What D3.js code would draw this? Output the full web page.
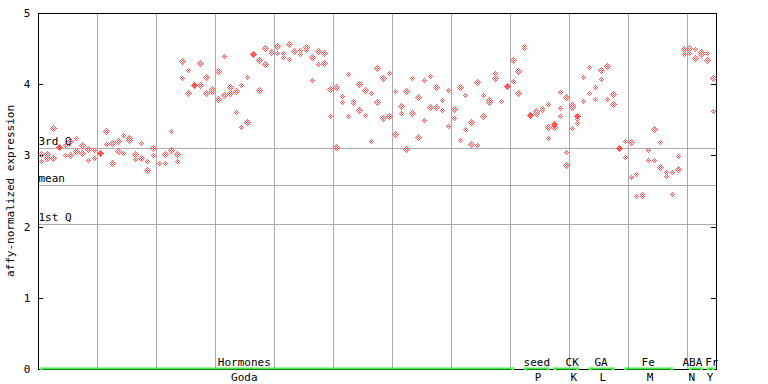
<!DOCTYPE html>
<html>
<head>
<meta charset="utf-8">
<script src="https://cdn.jsdelivr.net/npm/d3@7"></script>
<style>
body { margin: 0; background: #fff; }
text { font-family: "DejaVu Sans Mono", monospace; font-size: 11px; fill: #000; }
</style>
</head>
<body>
<svg id="chart" width="768" height="384"></svg>
<script>
// expression values per sample (hollow markers), index = sample position
var expr = [
  [3.02, 2.92], [3.02, 2.96], [3.39, 2.97], [], [3.14, 3.00],
  [3.20, 3.00], [3.24, 3.06], [3.14, 3.04], [3.09, 2.93], [3.07, 2.97],
  [], [3.34, 3.16], [3.17, 2.89], [3.20, 3.06], [3.28, 3.03],
  [3.24, 3.21], [3.02, 2.95], [3.17, 2.96], [2.92, 2.79], [3.10, 3.00],
  [2.90, 2.89], [3.02, 2.89], [3.34, 3.07], [3.02, 2.92], [4.33, 4.09],
  [4.20, 3.88], [], [4.30, 3.99], [4.10, 3.88], [3.93, 3.90],
  [4.19, 3.79], [4.40, 3.85], [3.96, 3.88], [3.90, 3.61], [3.99, 3.40],
  [4.10, 3.47], [], [4.34, 3.92], [4.51, 4.28], [4.47, 4.44],
  [4.54, 4.44], [4.44, 4.38], [4.56, 4.35], [4.48, 4.47], [4.48, 4.42],
  [4.52, 4.48], [4.38, 4.06], [4.47, 4.28], [4.44, 4.30], [3.93, 3.55],
  [3.96, 3.12], [3.83, 3.75], [4.14, 3.55], [3.76, 3.74], [4.00, 3.64],
  [3.92, 3.57], [3.88, 3.20], [4.23, 3.75], [4.09, 3.53], [4.16, 3.55],
  [3.90, 3.30], [3.69, 3.60], [3.90, 3.09], [4.09, 3.60], [3.82, 3.26],
  [4.06, 3.50], [4.12, 3.68], [3.96, 3.68], [3.78, 3.64], [3.92, 3.41],
  [3.65, 3.53], [3.96, 3.22], [3.85, 3.37], [3.47, 3.16], [4.03, 3.15],
  [3.85, 3.55], [3.78, 3.75], [4.16, 4.09], [3.77, 3.76], [],
  [4.34, 4.04], [4.19, 3.88], [4.54, 4.51], [], [3.62, 3.60],
  [3.67, 3.64], [3.72, 3.40, 3.24], [3.40], [3.89, 3.67, 3.55], [3.82, 3.05, 2.87],
  [3.71, 3.68, 3.38], [3.51, 3.46], [4.10, 3.76], [4.24, 3.88], [3.96, 3.79],
  [4.20, 4.07], [4.26, 3.79], [3.86, 3.72], [], [3.20, 2.98],
  [3.19, 2.70], [2.74, 2.43], [2.46, 2.43], [3.08, 2.94], [3.37, 2.94],
  [3.19, 2.84], [2.77, 2.71], [2.77, 2.46], [2.99, 2.81], [4.49, 4.42],
  [4.51, 4.44], [4.49, 4.37], [4.45, 4.42], [4.44, 4.34], [4.09, 3.62]
];
// filled markers
var ctrlIdx = [3, 10, 26, 36, 79, 83, 87, 91, 98];
var ctrlVal = [3.12, 3.03, 3.99, 4.42, 3.97, 3.57, 3.44, 3.55, 3.10];

var statLabels = ["3rd Q", "mean", "1st Q"];
var statVals = [3.10, 2.58, 2.04];

var yTicks = [0, 1, 2, 3, 4, 5];

// experiment groups along the bottom
var grpStart = [0, 82, 87, 93, 99, 110, 113];
var grpEnd   = [80, 86, 91, 97, 107, 112, 114];
var grpTop   = ["Hormones", "seed", "CK", "GA", "Fe", "ABA", "Fr"];
var grpBot   = ["Goda", "P", "K", "L", "M", "N", "Y"];
var grpTopAt = [35, 84.6, 90.6, 95.5, 103.5, 111, 114.3];
var grpBotAt = [35, 84.8, 90.9, 95.8, 103.8, 110.9, 114];

var nSamples = expr.length;

var svg = d3.select("#chart");
var x = d3.scaleLinear().domain([0, nSamples]).range([38, 716]);
var y = d3.scaleLinear().domain([0, 5]).range([369, 13]);

var defs = svg.append("defs");
var pat = defs.append("pattern").attr("id", "chk")
  .attr("patternUnits", "userSpaceOnUse").attr("width", 2).attr("height", 2);
pat.append("rect").attr("x", 0).attr("y", 0).attr("width", 1).attr("height", 1).attr("fill", "#ff5555");
pat.append("rect").attr("x", 1).attr("y", 1).attr("width", 1).attr("height", 1).attr("fill", "#ff5555");

// vertical grid every 10 samples
svg.append("g").selectAll("line").data(d3.range(10, nSamples, 10)).enter().append("line")
  .attr("x1", function(d){ return Math.round(x(d)) + 0.5; })
  .attr("x2", function(d){ return Math.round(x(d)) + 0.5; })
  .attr("y1", y(5)).attr("y2", y(0))
  .attr("stroke", "#aaaaaa").attr("stroke-width", 1);

// quartile / mean lines
svg.append("g").selectAll("line").data(statVals).enter().append("line")
  .attr("x1", x(0)).attr("x2", x(nSamples))
  .attr("y1", function(d){ return Math.round(y(d)) + 0.5; })
  .attr("y2", function(d){ return Math.round(y(d)) + 0.5; })
  .attr("stroke", "#aaaaaa").attr("stroke-width", 1);
svg.append("g").selectAll("text").data(statVals).enter().append("text")
  .attr("x", x(0) + 0.5)
  .attr("y", function(d){ return Math.round(y(d)) - 3; })
  .text(function(d, i){ return statLabels[i]; });

// frame: top border, left & right axes
svg.append("line").attr("x1", x(0)).attr("x2", x(nSamples) + 0.5)
  .attr("y1", y(5) + 0.5).attr("y2", y(5) + 0.5).attr("stroke", "#000");
svg.append("line").attr("x1", x(0) + 0.5).attr("x2", x(0) + 0.5)
  .attr("y1", y(5)).attr("y2", y(0) + 1).attr("stroke", "#000");
svg.append("line").attr("x1", x(nSamples) + 0.5).attr("x2", x(nSamples) + 0.5)
  .attr("y1", y(5)).attr("y2", y(0) + 1).attr("stroke", "#000");
svg.append("line").attr("x1", x(0)).attr("x2", x(nSamples) + 0.5)
  .attr("y1", y(0) + 0.5).attr("y2", y(0) + 0.5).attr("stroke", "#000");

var ticks = svg.append("g");
ticks.selectAll(".tl").data(yTicks).enter().append("line")
  .attr("x1", x(0)).attr("x2", x(0) + 5)
  .attr("y1", function(d){ return Math.round(y(d)) + 0.5; })
  .attr("y2", function(d){ return Math.round(y(d)) + 0.5; })
  .attr("stroke", "#000");
ticks.selectAll(".tr").data(yTicks).enter().append("line")
  .attr("x1", x(nSamples) - 5).attr("x2", x(nSamples))
  .attr("y1", function(d){ return Math.round(y(d)) + 0.5; })
  .attr("y2", function(d){ return Math.round(y(d)) + 0.5; })
  .attr("stroke", "#000");
ticks.selectAll("text").data(yTicks).enter().append("text")
  .attr("x", 27).attr("y", function(d){ return y(d) + 4; })
  .attr("text-anchor", "middle")
  .text(function(d){ return d; });

svg.append("text")
  .attr("transform", "translate(14," + y(2.5) + ") rotate(-90)")
  .attr("text-anchor", "middle")
  .text("affy-normalized expression");

// group lines along the x axis
var grp = svg.append("g");
grpStart.forEach(function(s, i){
  var x0 = x(s + 0.5) - 1, x1 = x(grpEnd[i] + 0.5) + 2, yy = 368.5;
  grp.append("line").attr("x1", x0).attr("x2", x1).attr("y1", yy).attr("y2", yy)
    .attr("stroke", "#44ee44").attr("stroke-width", 2);
  grp.append("path").attr("d", "M" + (x0 + 4) + "," + (yy - 2) + "L" + x0 + "," + yy + "L" + (x0 + 4) + "," + (yy + 2))
    .attr("fill", "none").attr("stroke", "#88ff88").attr("stroke-width", 1);
  grp.append("path").attr("d", "M" + (x1 - 4) + "," + (yy - 2) + "L" + x1 + "," + yy + "L" + (x1 - 4) + "," + (yy + 2))
    .attr("fill", "none").attr("stroke", "#88ff88").attr("stroke-width", 1);
  grp.append("text").attr("x", x(grpTopAt[i])).attr("y", 366)
    .attr("text-anchor", "middle").text(grpTop[i]);
  grp.append("text").attr("x", x(grpBotAt[i])).attr("y", 381)
    .attr("text-anchor", "middle").text(grpBot[i]);
});

// points
var pts = [];
expr.forEach(function(vals, i){
  vals.forEach(function(v){ pts.push({i: i, v: v}); });
});
function diamond(cx, cy, r){
  return "M" + cx + "," + (cy - r) + "L" + (cx + r) + "," + cy + "L" + cx + "," + (cy + r) + "L" + (cx - r) + "," + cy + "Z";
}
svg.append("g").selectAll("path").data(pts).enter().append("path")
  .attr("d", function(d){ return diamond(Math.round(x(d.i + 0.5)) + 0.5, Math.round(y(d.v)) + 0.5, 3.5); })
  .attr("fill", "url(#chk)")
  .attr("shape-rendering", "crispEdges");
svg.append("g").selectAll("path").data(ctrlIdx).enter().append("path")
  .attr("d", function(d, k){ return diamond(Math.round(x(d + 0.5)) + 0.5, Math.round(y(ctrlVal[k])) + 0.5, 3.5); })
  .attr("fill", "#ff5555")
  .attr("shape-rendering", "crispEdges");
</script>
</body>
</html>
